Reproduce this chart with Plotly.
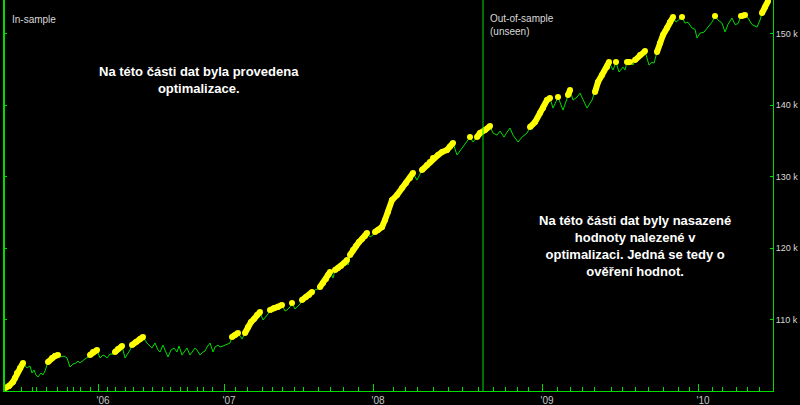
import plotly.graph_objects as go

# ---- data (bar index, equity in thousands, in-position flag) ----
bars = [5, 9, 13, 15, 17, 20, 23, 27, 30, 32, 34, 36, 38, 41, 43, 45,
        48, 52, 55, 58, 61, 64, 67, 70, 73, 76, 78, 80, 83, 85, 88,
        90, 93, 97, 100, 103, 105, 107, 110, 113, 115, 118, 122, 125, 128, 130,
        132, 136, 140, 143, 147, 150, 152, 155, 158, 160, 163, 165, 168, 171, 174,
        177, 179, 182, 185, 187, 190, 193, 195, 197, 200, 203, 205, 207, 210, 213,
        215, 218, 220, 223, 226, 228, 230, 232, 235, 238, 242, 245, 248, 251, 254,
        257, 260, 263, 266, 268, 270, 274, 278, 282, 285, 287, 290, 292, 295, 298,
        300, 302, 306, 309, 312, 315, 318, 320, 323, 326, 328, 330, 333, 335, 338,
        341, 344, 347, 348, 350, 353, 356, 359, 362, 365, 367, 370, 373, 375, 378,
        382, 385, 388, 392, 397, 402, 406, 410, 413, 417, 422, 427, 430, 433, 438,
        442, 447, 450, 453, 457, 462, 465, 470, 473, 477, 480, 485, 490, 493, 497,
        500, 504, 507, 510, 513, 518, 522, 527, 530, 535, 540, 543, 547, 550, 553,
        556, 558, 563, 566, 568, 570, 573, 577, 580, 583, 587, 592, 595, 598, 602,
        607, 609, 613, 616, 619, 623, 625, 627, 630, 633, 635, 640, 645, 647, 649,
        652, 654, 657, 660, 663, 667, 670, 673, 676, 679, 682, 685, 688, 692, 695,
        697, 700, 704, 708, 712, 715, 718, 722, 725, 728, 732, 735, 738, 741, 745,
        748, 752, 757, 760, 762, 765, 768]

equity_k = [100.42, 100.70, 101.26, 101.82, 102.52, 103.22, 103.92, 103.22, 103.50, 102.52, 102.94, 102.24, 101.96, 102.52, 102.24, 102.80,
            104.06, 104.62, 104.90, 105.03, 104.76, 104.90, 104.62, 103.36, 103.78, 103.92, 104.20, 103.92, 104.34, 104.48, 104.76,
            105.03, 105.45, 105.73, 104.62, 105.03, 104.90, 104.62, 105.17, 105.17, 105.45, 105.87, 106.29, 104.62, 105.31, 105.73,
            106.43, 106.85, 107.27, 107.55, 106.71, 106.29, 106.01, 106.71, 105.73, 105.45, 106.43, 105.73, 104.76, 105.73, 106.01,
            105.45, 106.29, 105.03, 105.73, 106.01, 105.03, 105.73, 106.01, 105.73, 105.03, 105.45, 105.59, 106.15, 106.71, 105.45,
            106.15, 106.43, 106.15, 106.29, 106.43, 106.57, 106.71, 107.55, 107.83, 108.11, 107.27, 108.11, 108.95, 109.65, 110.07,
            110.63, 111.05, 109.93, 110.35, 110.77, 111.33, 111.61, 111.75, 112.03, 111.19, 111.33, 111.75, 112.31, 111.47, 111.89,
            112.17, 112.73, 113.15, 113.43, 113.85, 114.13, 114.27, 114.55, 115.10, 115.66, 116.22, 116.64, 115.80, 116.92, 117.20,
            117.48, 117.90, 118.32, 117.62, 119.02, 119.72, 120.28, 120.84, 121.26, 121.68, 122.10, 121.54, 121.82, 122.24, 122.52,
            122.94, 123.92, 125.03, 126.71, 127.41, 128.39, 129.09, 129.79, 130.49, 129.51, 130.91, 131.61, 132.03, 132.59, 133.01,
            133.43, 133.71, 134.20, 134.69, 133.01, 133.99, 134.41, 135.52, 134.83, 135.52, 136.08, 136.50, 137.06, 136.08, 135.80,
            136.36, 135.52, 136.22, 136.78, 135.80, 134.83, 135.52, 136.08, 136.92, 137.62, 138.88, 139.58, 140.70, 140.98, 139.58,
            140.50, 141.12, 139.30, 140.60, 141.40, 142.10, 140.70, 141.10, 141.68, 140.70, 139.58, 140.70, 141.82, 143.22, 144.20,
            145.31, 146.01, 144.90, 146.01, 144.62, 145.31, 144.90, 146.01, 146.01, 145.59, 146.29, 146.99, 147.55, 146.57, 145.59,
            146.00, 145.87, 147.41, 148.67, 149.79, 150.77, 151.61, 152.31, 151.61, 151.90, 152.31, 151.47, 151.60, 150.77, 150.60,
            149.37, 150.07, 150.20, 150.91, 151.61, 152.45, 151.90, 151.47, 150.21, 151.30, 152.17, 151.26, 151.40, 152.45, 152.59,
            152.17, 151.26, 150.91, 151.89, 152.87, 153.71, 154.55]

in_position = [1, 1, 1, 1, 1, 1, 1, 0, 0, 0, 0, 0, 0, 0, 0, 0,
               1, 1, 1, 1, 0, 0, 0, 0, 0, 0, 0, 0, 0, 0, 0,
               1, 1, 1, 0, 0, 0, 0, 0, 0, 1, 1, 1, 0, 0, 0,
               1, 1, 1, 1, 0, 0, 0, 0, 0, 0, 0, 0, 0, 0, 0,
               0, 0, 0, 0, 0, 0, 0, 0, 0, 0, 0, 0, 0, 0, 0,
               0, 0, 0, 0, 0, 0, 0, 1, 1, 1, 0, 1, 1, 1, 1,
               1, 1, 0, 0, 0, 1, 1, 1, 1, 0, 0, 0, 1, 0, 0,
               0, 1, 1, 1, 1, 0, 0, 1, 1, 1, 1, 1, 0, 1, 1,
               1, 1, 1, 0, 1, 1, 1, 1, 1, 1, 1, 0, 0, 1, 1,
               1, 1, 1, 1, 1, 1, 1, 1, 1, 0, 1, 1, 1, 1, 1,
               1, 1, 1, 1, 0, 0, 0, 1, 0, 1, 1, 1, 1, 0, 0,
               0, 0, 0, 0, 0, 0, 0, 0, 1, 1, 1, 1, 1, 1, 0,
               0, 1, 0, 0, 1, 1, 0, 0, 0, 0, 0, 0, 1, 1, 1,
               1, 1, 0, 1, 0, 0, 0, 1, 1, 0, 1, 1, 1, 0, 0,
               0, 0, 1, 1, 1, 1, 1, 1, 0, 0, 1, 0, 0, 0, 0,
               0, 0, 0, 0, 0, 1, 0, 0, 0, 0, 0, 0, 0, 1, 1,
               0, 0, 0, 0, 1, 1, 1]

split_bar = 483
year_ticks = [98, 224, 373, 542, 698]
year_labels = ["'06", "'07", "'08", "'09", "'10"]
month_ticks = [21, 32, 36, 46, 57, 67, 73, 80, 90, 107, 115, 125, 133, 143, 152, 162, 170, 180, 187, 197, 203, 212,
               235, 247, 262, 272, 282, 294, 303, 318, 330, 343, 358, 393, 405, 417, 433, 448, 462, 478, 493, 505, 517,
               528, 557, 570, 582, 594, 611, 622, 635, 648, 663, 678, 689, 712, 722, 736, 747, 759]
y_ticks = [110, 120, 130, 140, 150]
y_labels = ["110 k", "120 k", "130 k", "140 k", "150 k"]

GREEN = "#00DC00"
YELLOW = "#FFFF00"

held_vals = [v if f else None for v, f in zip(equity_k, in_position)]

fig = go.Figure()
fig.add_trace(go.Scatter(x=bars, y=equity_k, mode="lines",
                         line=dict(color=GREEN, width=1), hoverinfo="skip"))
fig.add_trace(go.Scatter(x=bars, y=held_vals, mode="lines+markers",
                         line=dict(color=YELLOW, width=6),
                         marker=dict(color=YELLOW, size=6, symbol="circle"),
                         connectgaps=False, hoverinfo="skip"))

fig.add_shape(type="line", xref="x", yref="paper", x0=split_bar, x1=split_bar, y0=0, y1=1,
              line=dict(color=GREEN, width=1))
# thicker left frame line
fig.add_shape(type="line", xref="paper", yref="paper", x0=0, x1=0, y0=0, y1=1,
              line=dict(color=GREEN, width=2))

small = dict(family="Liberation Sans, Arial, sans-serif", size=10, color="#D8D8D8")
bold = dict(family="Liberation Sans, Arial, sans-serif", size=13, color="#FFFFFF")

fig.add_annotation(xref="paper", yref="paper", x=0.008, y=0.951, xanchor="left", yanchor="middle",
                   text="In-sample", showarrow=False, font=small)
fig.add_annotation(xref="x", yref="paper", x=split_bar + 5, y=0.935, xanchor="left", yanchor="middle",
                   text="Out-of-sample<br>(unseen)", showarrow=False, font=small, align="left")
fig.add_annotation(xref="x", yref="paper", x=199, y=0.795, xanchor="center", yanchor="middle",
                   text="<b>Na této části dat byla provedena<br>optimalizace.</b>", showarrow=False,
                   font=bold, align="center")
fig.add_annotation(xref="x", yref="paper", x=635, y=0.371, xanchor="center", yanchor="middle",
                   text="<b>Na této části dat byly nasazené<br>hodnoty nalezené v<br>optimalizaci. Jedná se tedy o<br>ověření hodnot.</b>",
                   showarrow=False, font=bold, align="center")

fig.update_layout(
    width=800, height=405,
    margin=dict(l=4, r=27, t=0, b=14),
    paper_bgcolor="#000000", plot_bgcolor="#000000",
    showlegend=False,
    xaxis=dict(range=[4, 773], showgrid=False, zeroline=False, automargin=False,
               showline=True, linecolor=GREEN, linewidth=1, mirror=False,
               tickmode="array", tickvals=year_ticks, ticktext=year_labels,
               ticks="inside", ticklen=7, tickcolor=GREEN, tickwidth=1, ticklabelshift=5,
               tickfont=dict(family="Liberation Sans, Arial, sans-serif", size=10, color="#C8C8C8"),
               minor=dict(tickvals=month_ticks, ticks="inside", ticklen=4, tickcolor=GREEN, tickwidth=1,
                          showgrid=False)),
    yaxis=dict(range=[100, 154.7], side="right", showgrid=False, zeroline=False, automargin=False,
               showline=True, linecolor=GREEN, linewidth=1, mirror="ticks",
               tickmode="array", tickvals=y_ticks, ticktext=y_labels,
               ticks="inside", ticklen=3, tickcolor=GREEN, tickwidth=1,
               tickfont=dict(family="Liberation Sans, Arial, sans-serif", size=9, color="#D8D8D8")),
)

fig.write_html("out.html", config={"displayModeBar": False, "staticPlot": True},
               post_script="document.body.style.margin='0';")
